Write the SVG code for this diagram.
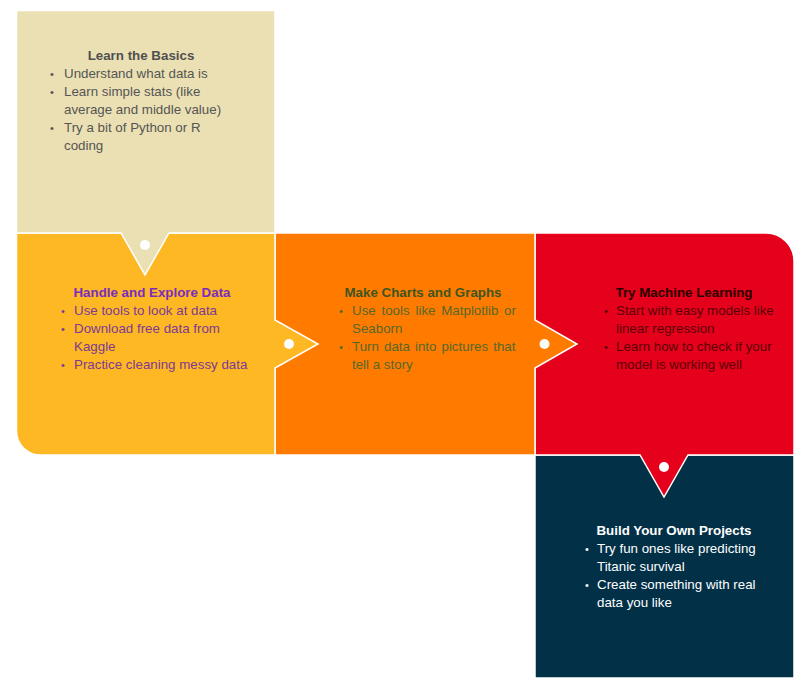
<svg xmlns="http://www.w3.org/2000/svg" width="800" height="689" viewBox="0 0 800 689">
<style>
  .shape { stroke: #ffffff; stroke-width: 1.5; stroke-linejoin: miter; }
  text { font-family: "Liberation Sans", Arial, sans-serif; font-size: 13.33px; }
  .title { font-weight: bold; text-anchor: middle; }
  .b { font-size: 11px; }
  .dot { fill: #ffffff; }
</style>
<rect x="0" y="0" width="800" height="689" fill="#ffffff"/>

<g id="node-build-projects">
  <path class="shape" fill="#023047" d="M535,455 H794 V678 H535 Z"/>
  <text class="title" x="674" y="535" fill="#ffffff">Build Your Own Projects</text>
  <g fill="#ffffff">
    <text class="b" x="585" y="553">•</text>
    <text x="597" y="553">Try fun ones like predicting</text>
    <text x="597" y="571">Titanic survival</text>
    <text class="b" x="585" y="589">•</text>
    <text x="597" y="589">Create something with real</text>
    <text x="597" y="607">data you like</text>
  </g>
</g>

<g id="node-machine-learning">
  <path class="shape" fill="#e5001b" d="M535,233 H766 A28,28 0 0 1 794,261 V455 H688 L664,497 L640,455 H535 Z"/>
  <text class="title" x="684" y="297" fill="#2a0000">Try Machine Learning</text>
  <g fill="#5a0008">
    <text class="b" x="604" y="315">•</text>
    <text x="616" y="315">Start with easy models like</text>
    <text x="616" y="333">linear regression</text>
    <text class="b" x="604" y="351">•</text>
    <text x="616" y="351">Learn how to check if your</text>
    <text x="616" y="369">model is working well</text>
  </g>
</g>

<g id="node-charts">
  <path class="shape" fill="#ff7b00" d="M275,233 H535 V320 L577,344 L535,368 V455 H275 Z"/>
  <text class="title" x="423" y="297" fill="#3d5620">Make Charts and Graphs</text>
  <g fill="#55682a">
    <text class="b" x="339" y="315">•</text>
    <text x="352" y="315" word-spacing="2.1">Use tools like Matplotlib or</text>
    <text x="352" y="333">Seaborn</text>
    <text class="b" x="339" y="351">•</text>
    <text x="352" y="351" word-spacing="1.35">Turn data into pictures that</text>
    <text x="352" y="369">tell a story</text>
  </g>
</g>

<g id="node-explore">
  <path class="shape" fill="#fdb823" d="M16.5,233 H275 V320 L318,344 L275,368 V455 H40.5 A24,24 0 0 1 16.5,431 Z"/>
  <text class="title" x="152" y="297" fill="#7a2cbf">Handle and Explore Data</text>
  <g fill="#7e3a94">
    <text class="b" x="61" y="315">•</text>
    <text x="74" y="315">Use tools to look at data</text>
    <text class="b" x="61" y="333">•</text>
    <text x="74" y="333">Download free data from</text>
    <text x="74" y="351">Kaggle</text>
    <text class="b" x="61" y="369">•</text>
    <text x="74" y="369">Practice cleaning messy data</text>
  </g>
</g>

<g id="node-basics">
  <path class="shape" fill="#ebe0b3" d="M16.5,10.5 H275 V233 H169 L145,275 L121,233 H16.5 Z"/>
  <text class="title" x="141" y="60" fill="#505050">Learn the Basics</text>
  <g fill="#555555">
    <text class="b" x="50" y="78">•</text>
    <text x="64" y="78">Understand what data is</text>
    <text class="b" x="50" y="96">•</text>
    <text x="64" y="96">Learn simple stats (like</text>
    <text x="64" y="114">average and middle value)</text>
    <text class="b" x="50" y="132">•</text>
    <text x="64" y="132">Try a bit of Python or R</text>
    <text x="64" y="150">coding</text>
  </g>
</g>

<g id="connectors">
  <circle class="dot" cx="145" cy="245" r="5"/>
  <circle class="dot" cx="289" cy="344" r="5"/>
  <circle class="dot" cx="544.5" cy="344" r="5"/>
  <circle class="dot" cx="664" cy="467" r="5"/>
</g>
</svg>
